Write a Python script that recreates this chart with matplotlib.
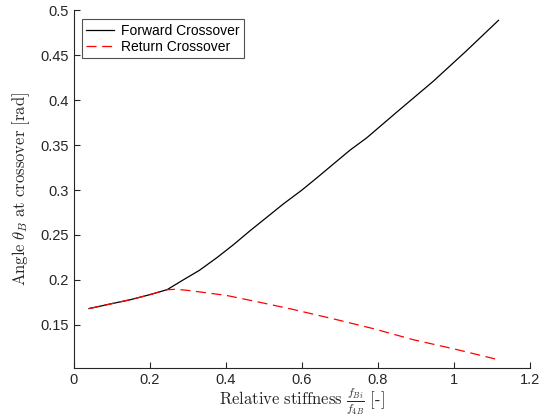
import numpy as np
import matplotlib
matplotlib.use('Agg')
import matplotlib.pyplot as plt

plt.rcParams['font.family'] = ['Liberation Sans', 'DejaVu Sans']
plt.rcParams['mathtext.fontset'] = 'cm'

# relative stiffness f_Bi / f_4B
x_fwd = [0.04, 0.10, 0.15, 0.20, 0.245, 0.29, 0.33, 0.376, 0.42, 0.463, 0.51, 0.551,
         0.60, 0.639, 0.726, 0.77, 0.85, 0.945, 1.03, 1.117]
y_fwd = [0.168, 0.1735, 0.178, 0.1835, 0.189, 0.2005, 0.2105, 0.2246, 0.2392, 0.2545, 0.2705, 0.2845,
         0.300, 0.3135, 0.3443, 0.358, 0.387, 0.421, 0.454, 0.489]

x_ret = [0.04, 0.10, 0.15, 0.20, 0.245, 0.27, 0.305, 0.402, 0.489, 0.577, 0.691,
         0.788, 0.893, 0.998, 1.117]
y_ret = [0.168, 0.1735, 0.178, 0.1835, 0.189, 0.1895, 0.188, 0.1826, 0.175, 0.167, 0.1557,
         0.1456, 0.1333, 0.1233, 0.111]

grey = '#262626'

fig = plt.figure(figsize=(5.51, 4.18), dpi=100)
ax = fig.add_axes([0.134, 0.120, 0.828, 0.855])

ax.plot(x_fwd, y_fwd, color='black', lw=0.9, label='Forward Crossover')
ax.plot(x_ret, y_ret, color='red', lw=0.9, ls=(0, (8, 4.5)), label='Return Crossover')

ax.set_xlim(0, 1.2)
ax.set_ylim(0.102, 0.5)
ax.set_xticks([0, 0.2, 0.4, 0.6, 0.8, 1, 1.2])
ax.set_xticklabels(['0', '0.2', '0.4', '0.6', '0.8', '1', '1.2'])
ax.set_yticks([0.15, 0.2, 0.25, 0.3, 0.35, 0.4, 0.45, 0.5])
ax.set_yticklabels(['0.15', '0.2', '0.25', '0.3', '0.35', '0.4', '0.45', '0.5'])

for side in ['top', 'right']:
    ax.spines[side].set_visible(False)
for side in ['left', 'bottom']:
    ax.spines[side].set_color(grey)
    ax.spines[side].set_linewidth(0.8)
ax.tick_params(direction='in', length=4, width=0.8, colors=grey, labelsize=10.5)

ax.set_xlabel(r'$\mathrm{Relative\ stiffness}\ \frac{f_{Bi}}{f_{4B}}\ \mathrm{[\text{-}]}$',
              fontsize=12, color=grey, labelpad=0)
ax.set_ylabel(r'$\mathrm{Angle}\ \theta_B\ \mathrm{at\ crossover\ [rad]}$',
              fontsize=12, color=grey, labelpad=6)

leg = ax.legend(loc='upper left', bbox_to_anchor=(0.018, 0.975), fontsize=10,
                frameon=True, fancybox=False, borderpad=0.3, handlelength=2.0,
                labelspacing=0.2, handletextpad=0.5, borderaxespad=0.0)
leg.get_frame().set_edgecolor(grey)
leg.get_frame().set_linewidth(0.8)

fig.savefig('out.png', dpi=100)
